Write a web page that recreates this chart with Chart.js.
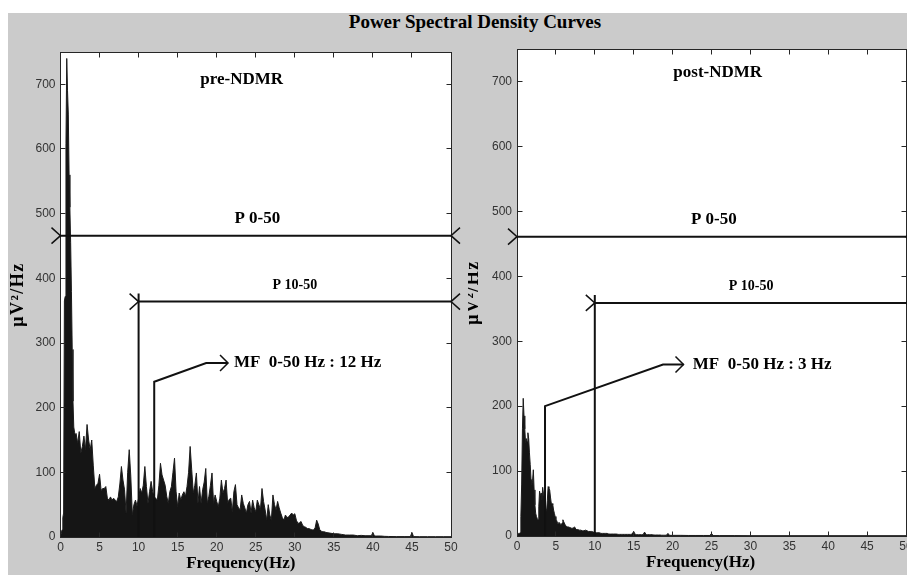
<!DOCTYPE html>
<html><head><meta charset="utf-8">
<script src="https://cdn.jsdelivr.net/npm/chart.js@4.4.1/dist/chart.umd.min.js"></script>
<style>
html,body{margin:0;padding:0;width:907px;height:575px;overflow:hidden;background:#fff;}
#bg{position:absolute;left:8px;top:13px;width:899px;height:562px;background:#cbcbcb;}
#title{position:absolute;left:0;top:12px;width:950px;text-align:center;font:bold 19px "Liberation Serif","Times New Roman",serif;line-height:19px;color:#000;}
canvas{position:absolute;}
</style></head>
<body>
<div id="bg"></div>
<div id="title">Power Spectral Density Curves</div>
<canvas id="c1" width="460" height="562" style="left:8px;top:13px;"></canvas>
<canvas id="c2" width="460" height="562" style="left:468px;top:13px;"></canvas>
<script>
// ---- data (frequency in Hz, PSD in µV²/Hz) ----
const freqPre = [0,0.1,0.2,0.3,0.4,0.5,0.6,0.7,0.8,0.9,1.0,1.1,1.2,1.3,1.4,1.5,1.6,1.7,1.8,1.9,2.0,
2.2,2.4,2.6,2.8,3.0,3.2,3.4,3.6,3.8,4.0,4.2,4.4,4.6,4.8,5.0,5.2,5.4,5.6,5.8,6.0,6.2,6.4,6.6,6.8,7.0,7.2,7.4,7.6,7.8,8.0,
8.2,8.4,8.6,8.8,9.0,9.2,9.4,9.6,9.8,10.0,10.2,10.4,10.6,10.8,11.0,11.2,11.4,11.6,11.8,12.0,12.2,12.4,12.6,12.8,13.0,
13.2,13.4,13.6,13.8,14.0,14.2,14.4,14.6,14.8,15.0,15.2,15.4,15.6,15.8,16.0,16.2,16.4,16.6,16.8,17.0,17.2,17.4,17.6,17.8,18.0,
18.2,18.4,18.6,18.8,19.0,19.2,19.4,19.6,19.8,20.0,20.2,20.4,20.6,20.8,21.0,21.2,21.4,21.6,21.8,22.0,22.2,22.4,22.6,22.8,23.0,
23.2,23.4,23.6,23.8,24.0,24.2,24.4,24.6,24.8,25.0,25.2,25.4,25.6,25.8,26.0,26.2,26.4,26.6,26.8,27.0,27.2,27.4,27.6,27.8,28.0,
28.2,28.4,28.6,28.8,29.0,29.2,29.4,29.6,29.8,30.0,30.2,30.4,30.6,30.8,31.0,31.2,31.4,31.6,31.8,32.0,32.2,32.4,32.6,32.8,33.0,
33.2,33.4,33.6,33.8,34.0,34.5,35.0,35.5,36.0,36.5,37.0,37.5,38.0,38.5,39.0,39.5,39.8,40.0,40.2,40.5,41.0,41.5,42.0,43.0,44.0,
44.8,45.0,45.2,46,47,48,49,50];
const psdPre = [0,6,11,30,37,365,372,608,740,690,654,560,510,455,380,290,210,170,162,158,160,
145,163,130,140,156,135,174,150,135,150,110,75,80,83,97,72,75,75,78,60,57,62,57,60,57,55,62,82,109,88,
73,37,100,135,94,34,50,57,48,60,75,68,80,109,78,52,70,86,70,62,60,57,80,114,96,
88,80,63,52,70,78,100,122,70,47,68,57,65,70,63,78,100,140,104,68,80,99,52,78,52,
73,85,106,52,63,80,99,52,65,55,47,60,88,68,75,88,52,58,60,39,70,81,50,45,42,
65,52,45,37,50,55,37,57,45,39,57,50,42,75,55,42,26,50,34,26,65,50,42,55,45,
37,30,26,34,30,31,34,37,34,36,26,21,22,24,18,16,15,13,13,12,11,11,14,26,20,
11,9,8,8,7,6,5,5,4,3,3,3,2,2.5,2,2,2,7,1.5,1.5,1.5,1,0.8,0.6,0.6,
0.6,7,0.6,0.5,0.5,0.5,0.5,0.5];

const freqPost = [0,0.1,0.2,0.3,0.4,0.5,0.6,0.7,0.8,0.9,1.0,1.1,1.2,1.3,1.4,1.5,1.6,1.7,1.8,1.9,2.0,
2.1,2.2,2.3,2.4,2.5,2.6,2.7,2.8,2.9,3.0,3.1,3.2,3.3,3.4,3.5,3.6,3.7,3.8,3.9,4.0,4.1,4.2,4.3,4.4,4.5,4.6,4.7,4.8,4.9,5.0,
5.1,5.2,5.3,5.4,5.5,5.6,5.7,5.8,5.9,6.0,6.2,6.4,6.6,6.8,7.0,7.2,7.4,7.6,7.8,8.0,8.2,8.4,8.6,8.8,9.0,9.2,9.4,9.6,9.8,10.0,
10.2,10.4,10.6,10.8,11.0,11.2,11.4,11.6,11.8,12.0,12.2,12.4,12.6,12.8,13.0,13.2,13.4,13.6,13.8,14.0,14.2,14.4,14.6,14.8,15.0,
15.2,15.4,15.6,15.8,16.0,16.2,16.4,16.6,16.8,17.0,17.2,17.4,17.6,17.8,18.0,18.2,18.4,18.6,18.8,19.0,19.2,19.4,19.6,19.8,20.0,
21,22,23,24,24.8,25.0,25.2,26,28,30,35,40,45,50];
const psdPost = [0,3,4,4,5,30,80,165,212,185,165,144,150,145,159,150,128,110,87,79,85,
102,71,48,35,30,27,25,45,69,62,66,56,75,66,60,40,42,38,55,76,74,71,60,51,50,48,40,35,30,25,
24,20,19,21,21,18,17,20,25,22,17,14,14,13,12,12,14,10,10,9,9,8,8,9,8,7,7,7,6,6,
5,5,5,4,4,4,4,4,3,3,3,3,3,3,2.5,2.5,2.5,2.5,2.5,2.5,2.5,2.5,2.5,3,7,
2.5,2,2,2,2,2,6,2,2,2,2,2,1.5,1.5,1.5,1.5,1.5,1.2,1.2,1.2,1.2,4,1,1,1,
1,0.8,0.8,0.8,0.8,4,0.6,0.6,0.6,0.5,0.5,0.5,0.5,0.5];

const xTicks = [0,5,10,15,20,25,30,35,40,45,50];
const yTicks = [0,100,200,300,400,500,600,700];

// annotation values (data units)
const annotPre = {label:'pre-NDMR', labelAt:[23.2,708], p050:466, p050At:[25.2,492], p1050:364, p1050At:[30,389],
  mf:12, mfTop:240, mfElbow:[18.65,269], mfTip:21.45, mfText:'MF  0-50 Hz : 12 Hz', mfTextX:22.2, xTitleShift:-15, yTitleX:10};
const annotPost = {label:'post-NDMR', labelAt:[25.8,713], p050:461, p050At:[25.3,487], p1050:359, p1050At:[30.1,385],
  mf:3.6, mfTop:200, mfElbow:[18.77,264], mfTip:21.4, mfText:'MF  0-50 Hz : 3 Hz', mfTextX:22.6, xTitleShift:-11, yTitleX:5};

const SERIF = '"Liberation Serif","Times New Roman",serif';
const SANS = '"Liberation Sans",Arial,sans-serif';

function crisp(v){ return Math.floor(v)+0.5; }

function makePlugin(A){
  return {
    id:'psdDecor',
    beforeDraw(chart){
      const ctx = chart.ctx, a = chart.chartArea;
      ctx.save();
      ctx.fillStyle = '#ffffff';
      ctx.fillRect(a.left, a.top, a.right-a.left, a.bottom-a.top);
      ctx.restore();
    },
    afterDraw(chart){
      const ctx = chart.ctx, a = chart.chartArea, xs = chart.scales.x, ys = chart.scales.y;
      const X = v => xs.getPixelForValue(v), Y = v => ys.getPixelForValue(v);
      ctx.save();
      // frame + inward ticks
      ctx.strokeStyle = '#262626'; ctx.lineWidth = 1;
      const L = crisp(a.left), R = crisp(a.right), T = crisp(a.top), B = crisp(a.bottom);
      ctx.strokeRect(L, T, R-L, B-T);
      ctx.beginPath();
      xTicks.forEach(v => { const px = crisp(X(v)); ctx.moveTo(px,B); ctx.lineTo(px,B-5); ctx.moveTo(px,T); ctx.lineTo(px,T+5); });
      yTicks.forEach(v => { const py = crisp(Y(v)); ctx.moveTo(L,py); ctx.lineTo(L+5,py); ctx.moveTo(R,py); ctx.lineTo(R-5,py); });
      ctx.stroke();

      // annotation lines
      ctx.strokeStyle = '#111'; ctx.lineWidth = 2; ctx.lineJoin = 'miter';
      const chevL = (px,py) => { ctx.moveTo(px-9,py-8); ctx.lineTo(px,py); ctx.lineTo(px-9,py+8); };
      const chevR = (px,py) => { ctx.moveTo(px+9,py-8); ctx.lineTo(px,py); ctx.lineTo(px+9,py+8); };
      ctx.beginPath();
      let py = Y(A.p050);
      ctx.moveTo(X(0),py); ctx.lineTo(X(50),py);
      ctx.stroke();
      ctx.lineWidth = 1.5; ctx.beginPath(); chevL(X(0),py); chevR(X(50),py); ctx.stroke();
      ctx.lineWidth = 2; ctx.beginPath();
      py = Y(A.p1050);
      ctx.moveTo(X(10),py); ctx.lineTo(X(50),py);
      ctx.moveTo(X(10),py-8); ctx.lineTo(X(10),Y(0));
      ctx.stroke();
      ctx.lineWidth = 1.5; ctx.beginPath(); chevL(X(10),py); chevR(X(50),py); ctx.stroke();
      ctx.lineWidth = 2; ctx.beginPath();
      ctx.moveTo(X(A.mf),Y(0)); ctx.lineTo(X(A.mf),Y(A.mfTop));
      ctx.lineTo(X(A.mfElbow[0]),Y(A.mfElbow[1])); ctx.lineTo(X(A.mfTip),Y(A.mfElbow[1]));
      ctx.stroke();
      ctx.lineWidth = 1.5; ctx.beginPath();
      const tx = X(A.mfTip), ty = Y(A.mfElbow[1]);
      ctx.moveTo(tx-8,ty-8); ctx.lineTo(tx,ty); ctx.lineTo(tx-8,ty+8); ctx.stroke();

      // texts
      ctx.fillStyle = '#000'; ctx.textBaseline = 'middle';
      ctx.textAlign = 'center';
      ctx.font = 'bold 17px ' + SERIF;
      ctx.fillText(A.label, X(A.labelAt[0]), Y(A.labelAt[1]));
      ctx.fillText('P 0-50', X(A.p050At[0]), Y(A.p050At[1]));
      ctx.font = 'bold 14px ' + SERIF;
      ctx.fillText('P 10-50', X(A.p1050At[0]), Y(A.p1050At[1]));
      ctx.font = 'bold 17px ' + SERIF;
      ctx.textAlign = 'left';
      ctx.fillText(A.mfText, X(A.mfTextX), Y(A.mfElbow[1]));

      // axis titles
      ctx.font = 'bold 17px ' + SERIF;
      ctx.textAlign = 'center'; ctx.textBaseline = 'alphabetic';
      ctx.fillText('Frequency(Hz)', (a.left+a.right)/2 + A.xTitleShift, a.bottom + 31);
      ctx.save();
      ctx.translate(A.yTitleX, (a.top+a.bottom)/2);
      ctx.rotate(-Math.PI/2);
      ctx.textBaseline = 'middle';
      ctx.font = 'bold 18px ' + SERIF;
      ctx.letterSpacing = '1.5px';
      ctx.fillText('\u03BCV\u00B2/Hz', 0, 0);
      ctx.restore();
      ctx.restore();
    }
  };
}

function makeChart(id, freqs, vals, A, padTop, padRight, yWidth, xHeight){
  const pts = freqs.map((f,i) => ({x:f, y:vals[i]}));
  return new Chart(document.getElementById(id), {
    type:'line',
    data:{datasets:[{data:pts, borderColor:'#1c1c1c', backgroundColor:'#151515', borderWidth:1,
      fill:'origin', pointRadius:0, tension:0}]},
    options:{
      responsive:false, animation:false, events:[],
      layout:{padding:{top:padTop, right:padRight, left:0, bottom:0}},
      plugins:{legend:{display:false}, tooltip:{enabled:false}},
      scales:{
        x:{type:'linear', min:0, max:50,
           ticks:{stepSize:5, autoSkip:false, maxRotation:0, padding:3, color:'#333', font:{family:SANS, size:12},
                  includeBounds:false},
           grid:{display:false, drawTicks:false}, border:{display:false},
           afterBuildTicks: s => { s.ticks = xTicks.map(v => ({value:v})); },
           afterFit: s => { s.height = xHeight; }},
        y:{min:0, max:750,
           ticks:{stepSize:100, padding:5, color:'#333', font:{family:SANS, size:12}, includeBounds:false},
           grid:{display:false, drawTicks:false}, border:{display:false},
           afterBuildTicks: s => { s.ticks = yTicks.map(v => ({value:v})); },
           afterFit: s => { s.width = yWidth; }}
      }
    },
    plugins:[makePlugin(A)]
  });
}

makeChart('c1', freqPre, psdPre, annotPre, 39, 17, 52.5, 38);
makeChart('c2', freqPost, psdPost, annotPost, 36, 22, 49, 39);
</script>
</body></html>
